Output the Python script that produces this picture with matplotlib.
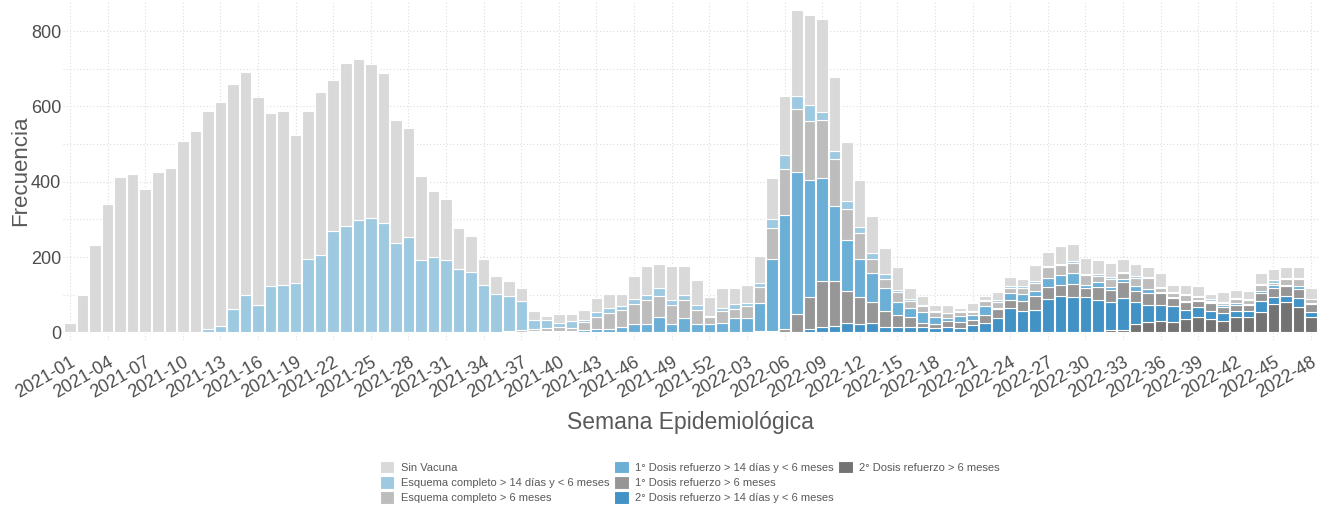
import matplotlib
matplotlib.use("Agg")
import matplotlib.pyplot as plt
from matplotlib.patches import Patch
import numpy as np

plt.rcParams['font.family'] = ['Liberation Sans', 'DejaVu Sans']

# week labels 2021-01 .. 2022-48
semanas = [f'2021-{w:02d}' for w in range(1, 53)] + [f'2022-{w:02d}' for w in range(1, 49)]

# values per category (segments, stacked bottom -> top: dosis2_6m, dosis2_14d, dosis1_6m, dosis1_14d, esq_6m, esq_14d, sin_vacuna)
sin_vacuna = [25, 98, 231, 341, 412, 421, 380, 426, 437, 508, 534,
              580, 595, 597, 594, 551, 459, 460, 394, 391, 433, 401, 432, 429, 410, 398, 327, 289, 223, 175, 161, 109, 96, 71, 48,
              39, 35, 24, 11, 24, 18, 27, 36, 38, 32, 61, 77, 63, 90, 77, 68, 50, 54, 44, 48,
              73, 109, 156, 228, 239, 246, 196, 158, 123, 97, 68, 60, 31, 24, 16, 21, 8, 21, 11, 21,
              24, 18, 45, 37, 48, 45, 42, 38, 39, 35, 32, 25, 37, 19, 25, 26, 14, 26, 20, 22,
              29, 29, 30, 30, 30]
esq_14d = [0] * 11 + \
          [9, 16, 63, 98, 73, 124, 127, 130, 196, 205, 269, 283, 298, 303, 291, 237, 253, 193, 200, 192, 168, 161, 125, 102,
           93, 77, 23, 21, 11, 19, 6, 14, 14, 12, 12, 13, 21, 13, 13, 13, 3, 9, 13, 10,
           10, 25, 37, 35, 42, 21, 22, 21, 18, 16, 13, 7, 5, 4, 4, 1, 3, 3, 4, 4,
           4, 5, 5, 3, 3, 6, 4, 4, 4, 3, 7, 4, 2, 3, 4, 2, 4, 3, 3, 3,
           2, 7, 1, 2, 1]
esq_6m = [0] * 35 + \
         [1, 4, 7, 8, 10, 8, 21, 30, 40, 44, 53, 62, 56, 50, 48, 38, 20, 31, 25, 30,
          42, 82, 122, 167, 158, 153, 125, 81, 67, 37, 24, 25, 18, 15, 11, 12, 9, 7, 12, 16,
          15, 17, 19, 28, 27, 27, 24, 16, 21, 15, 20, 29, 11, 9, 15, 10, 3, 6, 12, 9,
          18, 6, 15, 17, 9]
dosis1_14d = [0] * 35 + \
             [2, 2, 3, 4, 4, 4, 6, 10, 10, 15, 23, 23, 41, 23, 38, 21, 21, 25, 37, 39,
              76, 192, 304, 376, 310, 276, 199, 136, 102, 77, 61, 36, 24, 29, 19, 8, 17, 13, 23, 2,
              18, 20, 15, 24, 25, 28, 8, 14, 9, 9, 12, 11, 4, 5, 3, 3, 2, 4, 4, 3,
              5, 7, 3, 9, 3]
dosis1_6m = [0] * 55 + \
            [3, 2, 8, 49, 84, 121, 120, 84, 71, 55, 43, 30, 26, 12, 11, 17, 15, 15, 22, 26,
             22, 25, 37, 33, 30, 35, 26, 34, 31, 41, 30, 31, 32, 20, 21, 16, 23, 18, 16, 16,
             21, 25, 28, 25, 22]
dosis2_14d = [0] * 56 + \
             [1, 0, 0, 10, 14, 16, 26, 23, 26, 14, 15, 15, 13, 12, 13, 12, 19, 25, 37,
              64, 57, 59, 88, 94, 92, 91, 84, 75, 86, 58, 46, 42, 43, 24, 26, 21, 19, 15, 15,
              28, 19, 15, 24, 13]
dosis2_6m = [0] * 79 + \
            [2, 2, 2, 2, 6, 6, 23, 27, 30, 27, 35, 40, 35, 31, 42, 42,
             55, 75, 81, 66, 41]

series = [
    ('2° Dosis refuerzo > 6 meses', dosis2_6m, '#737373'),
    ('2° Dosis refuerzo > 14 días y < 6 meses', dosis2_14d, '#4292C6'),
    ('1° Dosis refuerzo > 6 meses', dosis1_6m, '#969696'),
    ('1° Dosis refuerzo > 14 días y < 6 meses', dosis1_14d, '#6BAED6'),
    ('Esquema completo > 6 meses', esq_6m, '#BDBDBD'),
    ('Esquema completo > 14 días y < 6 meses', esq_14d, '#9ECAE1'),
    ('Sin Vacuna', sin_vacuna, '#D9D9D9'),
]

fig = plt.figure(figsize=(13.29, 5.08), dpi=100)
ax = fig.add_axes([62.5 / 1329, 0.331, (1318.5 - 62.5) / 1329, 0.667])

x = np.arange(len(semanas))
bottom = np.zeros(len(semanas))
handles = {}
for name, vals, col in series:
    vals = np.array(vals, dtype=float)
    b = ax.bar(x, vals, bottom=bottom, width=0.92, color=col, edgecolor='white', linewidth=0.8, label=name)
    handles[name] = b
    bottom += vals

ax.set_xlim(-0.6, len(semanas) - 0.4)
ax.set_ylim(-20, 880)
ax.set_yticks([0, 200, 400, 600, 800])
ax.set_yticks([100, 300, 500, 700], minor=True)
ax.set_xticks(x[::3])
ax.set_xticklabels(semanas[::3], rotation=30, ha='right', rotation_mode='anchor')

ax.grid(True, which='both', axis='y', linestyle=(0, (1, 2)), color='#DDDDDD', linewidth=0.8)
ax.grid(True, which='major', axis='x', linestyle=(0, (1, 2)), color='#DDDDDD', linewidth=0.8)
ax.set_axisbelow(True)
for s in ax.spines.values():
    s.set_visible(False)
ax.tick_params(axis='both', which='both', length=0, labelsize=13, labelcolor='#4D4D4D')
ax.tick_params(axis='y', pad=1)
ax.tick_params(axis='x', pad=10)

ax.set_ylabel('Frecuencia', fontsize=16, color='#595959', labelpad=0)
ax.set_xlabel('Semana Epidemiológica', fontsize=16.5, color='#595959', labelpad=7)

# legend: 3 columns filled column-wise (3, 3, 1) like the original
order = ['Sin Vacuna', 'Esquema completo > 14 días y < 6 meses', 'Esquema completo > 6 meses',
         '1° Dosis refuerzo > 14 días y < 6 meses', '1° Dosis refuerzo > 6 meses',
         '2° Dosis refuerzo > 14 días y < 6 meses', '2° Dosis refuerzo > 6 meses']
blank = Patch(facecolor='none', edgecolor='none')
leg = fig.legend([handles[n] for n in order] + [blank, blank], order + ['', ''],
                 loc='center', bbox_to_anchor=(690 / 1329, 0.051),
                 ncol=3, frameon=False, fontsize=8, handlelength=1.3, handleheight=1.4,
                 handletextpad=0.6, columnspacing=0.4, labelspacing=0.2)
for t in leg.get_texts():
    t.set_color('#595959')

fig.savefig('out.png', dpi=100)
